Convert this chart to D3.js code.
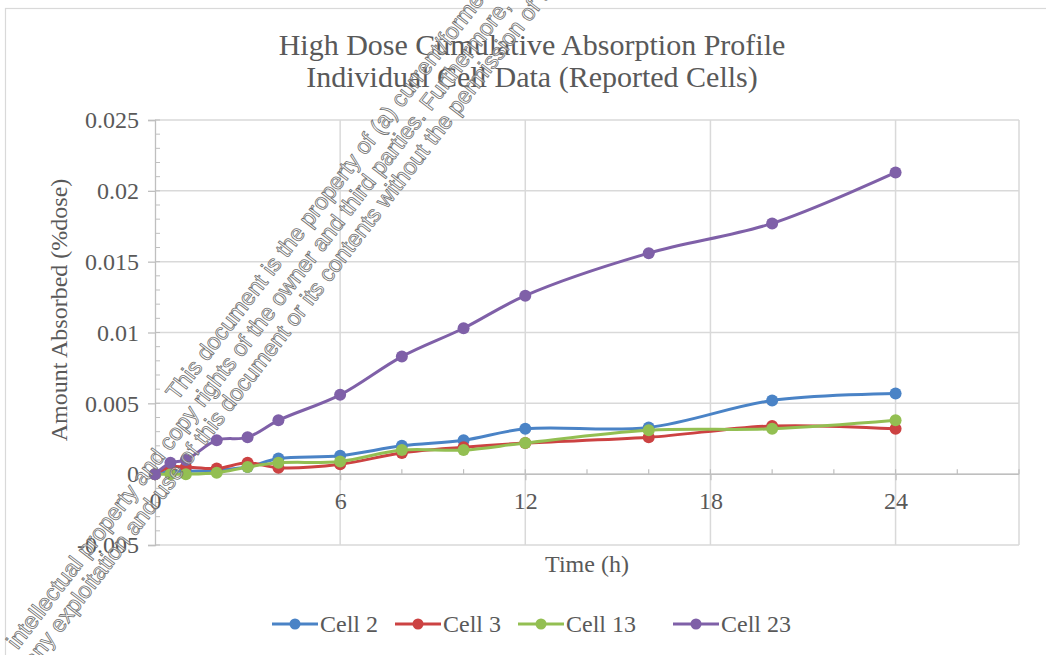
<!DOCTYPE html>
<html>
<head>
<meta charset="utf-8">
<script src="https://cdn.jsdelivr.net/npm/d3@7"></script>
<style>
  body { margin: 0; background: #fff; }
  svg text { font-family: "Liberation Serif", "Times New Roman", serif; fill: #595959; }
</style>
</head>
<body>
<div id="chart"></div>
<script>
// sampling times (h)
var hours = [0, 0.5, 1, 2, 3, 4, 6, 8, 10, 12, 16, 20, 24];

// amount absorbed (%dose) per cell
var cell2  = [0, 0.0002, 0.0002, 0.0003, 0.0005, 0.0011, 0.0013, 0.0020, 0.0024, 0.0032, 0.0033, 0.0052, 0.0057];
var cell3  = [0, 0.0005, 0.0005, 0.0004, 0.0008, 0.00045, 0.0007, 0.0015, 0.0019, 0.0022, 0.0026, 0.0034, 0.0032];
var cell13 = [0, 0, 0, 0.0001, 0.0005, 0.0008, 0.0009, 0.0017, 0.0017, 0.0022, 0.0031, 0.0032, 0.0038];
var cell23 = [0, 0.0008, 0.0010, 0.0024, 0.0026, 0.0038, 0.0056, 0.0083, 0.0103, 0.0126, 0.0156, 0.0177, 0.0213];

var seriesNames  = ["Cell 2", "Cell 3", "Cell 13", "Cell 23"];
var seriesValues = [cell2, cell3, cell13, cell23];
var seriesColors = ["#4a83c6", "#cc4242", "#93bf52", "#7f60a8"];

var xTicks = [0, 6, 12, 18, 24];
var yTicks = [-0.005, 0, 0.005, 0.01, 0.015, 0.02, 0.025];
var yTickLabels = ["-0.005", "0", "0.005", "0.01", "0.015", "0.02", "0.025"];

var titleLines = ["High Dose Cumulative Absorption Profile", "Individual Cell Data (Reported Cells)"];

// watermark lines: [text before anchor, text after anchor]
var watermark = [
    ["", "This document is the property of (a) current/former data owner(s)."],
    ["intellectual property and ", "copy rights of the owner and third parties. Furthermore, this document may fall under"],
    ["any exploitation and use of this ", "document or its contents without the permission of the owner"]
];

// 0.size
var svgW = 1046, svgH = 655;
var plot = {left: 155, right: 1019, top: 120, bottom: 545};
var gridColor = "#d9d9d9";

var svg = d3.select("#chart").append("svg")
    .attr("width", svgW).attr("height", svgH);

// chart area border (only left / top show)
svg.append("rect")
    .attr("x", 5.5).attr("y", 8.5)
    .attr("width", 1060).attr("height", 670)
    .attr("fill", "#fff").attr("stroke", gridColor).attr("stroke-width", 1.2);

var x = d3.scaleLinear().domain([0, 28]).range([plot.left, plot.right]);
var y = d3.scaleLinear().domain([-0.005, 0.025]).range([plot.bottom, plot.top]);

// 1.grid
var grid = svg.append("g");
grid.selectAll("line.h").data(yTicks).enter().append("line")
    .attr("x1", plot.left).attr("x2", plot.right)
    .attr("y1", function(d){ return y(d); }).attr("y2", function(d){ return y(d); })
    .attr("stroke", gridColor).attr("stroke-width", 1.5);
grid.selectAll("line.v").data(xTicks.slice(1).concat([28])).enter().append("line")
    .attr("x1", function(d){ return x(d); }).attr("x2", function(d){ return x(d); })
    .attr("y1", plot.top).attr("y2", plot.bottom)
    .attr("stroke", gridColor).attr("stroke-width", 1.5);

// 2.axes
var axisColor = "#bfbfbf";
var yAxis = d3.axisLeft(y)
    .tickValues(yTicks)
    .tickSize(7).tickPadding(9)
    .tickFormat(function(d, i){ return yTickLabels[i]; });
var gY = svg.append("g")
    .attr("transform", "translate(" + x(0) + ",0)")
    .call(yAxis);
gY.select(".domain").attr("stroke", axisColor).attr("stroke-width", 1.3);
gY.selectAll(".tick line").attr("stroke", axisColor).attr("stroke-width", 1.3);
gY.selectAll(".tick text")
    .style("font-family", "'Liberation Serif', serif")
    .style("font-size", "24px").attr("fill", "#595959");

// minor y ticks (inside)
var yMinor = d3.range(-5, 26).map(function(k){ return k / 1000; });
svg.append("g").selectAll("line").data(yMinor).enter().append("line")
    .attr("x1", x(0)).attr("x2", x(0) + 5)
    .attr("y1", function(d){ return y(d); }).attr("y2", function(d){ return y(d); })
    .attr("stroke", axisColor).attr("stroke-width", 1);

var xAxis = d3.axisBottom(x)
    .tickValues(xTicks)
    .tickSize(6).tickPadding(12)
    .tickFormat(d3.format("d"));
var gX = svg.append("g")
    .attr("transform", "translate(0," + y(0) + ")")
    .call(xAxis);
gX.select(".domain").attr("stroke", axisColor).attr("stroke-width", 1.5)
    .attr("d", "M" + x(0) + ",0H" + x(28));
gX.selectAll(".tick line").attr("stroke", axisColor).attr("stroke-width", 1.3);
gX.selectAll(".tick text")
    .style("font-family", "'Liberation Serif', serif")
    .style("font-size", "24px").attr("fill", "#595959");

// minor x ticks (inside, every 2 h)
var xMinor = d3.range(2, 29, 2);
svg.append("g").selectAll("line").data(xMinor).enter().append("line")
    .attr("x1", function(d){ return x(d); }).attr("x2", function(d){ return x(d); })
    .attr("y1", y(0) - 5).attr("y2", y(0))
    .attr("stroke", axisColor).attr("stroke-width", 1.2);

// 3.series
var line = d3.line()
    .x(function(d){ return x(d[0]); })
    .y(function(d){ return y(d[1]); })
    .curve(d3.curveCatmullRom.alpha(0.5));

seriesValues.forEach(function(vals, i){
    var pts = hours.map(function(h, j){ return [h, vals[j]]; });
    var g = svg.append("g");
    g.append("path").datum(pts)
        .attr("d", line)
        .attr("fill", "none")
        .attr("stroke", seriesColors[i])
        .attr("stroke-width", 3)
        .attr("stroke-linejoin", "round");
    g.selectAll("circle").data(pts).enter().append("circle")
        .attr("cx", function(d){ return x(d[0]); })
        .attr("cy", function(d){ return y(d[1]); })
        .attr("r", 6)
        .attr("fill", seriesColors[i]);
});

// 4.titles
svg.append("text")
    .attr("x", 532).attr("text-anchor", "middle")
    .style("font-size", "30px")
    .selectAll("tspan").data(titleLines).enter().append("tspan")
    .attr("x", 532)
    .attr("y", function(d, i){ return 55 + i * 32; })
    .text(function(d){ return d; });

svg.append("text")
    .attr("x", (plot.left + plot.right) / 2).attr("y", 572)
    .attr("text-anchor", "middle")
    .style("font-size", "24px")
    .text("Time (h)");

svg.append("text")
    .attr("transform", "translate(67,310) rotate(-90)")
    .attr("text-anchor", "middle")
    .style("font-size", "24px")
    .text("Amount Absorbed (%dose)");

// 5.legend
var legendX = [272, 395, 518, 673];
var legend = svg.append("g");
seriesNames.forEach(function(name, i){
    var lg = legend.append("g").attr("transform", "translate(" + legendX[i] + ",624)");
    lg.append("line").attr("x1", 0).attr("x2", 46).attr("y1", 0).attr("y2", 0)
        .attr("stroke", seriesColors[i]).attr("stroke-width", 3);
    lg.append("circle").attr("cx", 23).attr("cy", 0).attr("r", 5.5).attr("fill", seriesColors[i]);
    lg.append("text").attr("x", 48).attr("y", 8)
        .style("font-size", "24px").text(name);
});

// 6.watermark (drawn over everything)
var angle = -52.5;
var rad = angle * Math.PI / 180;
var ux = Math.cos(rad), uy = Math.sin(rad);     // along text
var nx = -uy, ny = ux;                          // line offset direction
var wmAnchors = [[-214, 385], [-258, 410], [-191, 434]];  // [along, offset]
var wm = svg.append("g");
watermark.forEach(function(parts, i){
    var s = wmAnchors[i][0], t = wmAnchors[i][1];
    var px = s * ux + t * nx, py = s * uy + t * ny;
    [["end", parts[0], -3], ["start", parts[1], 3]].forEach(function(p){
        if(!p[1]) return;
        wm.append("text")
            .attr("transform", "translate(" + (px + p[2] * ux) + "," + (py + p[2] * uy) + ") rotate(" + angle + ")")
            .attr("text-anchor", p[0])
            .style("font-family", "'Liberation Sans', Arial, sans-serif")
            .style("font-size", "23px")
            .style("fill", "#ffffff").style("fill-opacity", 0.55)
            .style("stroke", "#6f6f6f").style("stroke-width", 0.8)
            .text(p[1]);
    });
});
</script>
</body>
</html>
